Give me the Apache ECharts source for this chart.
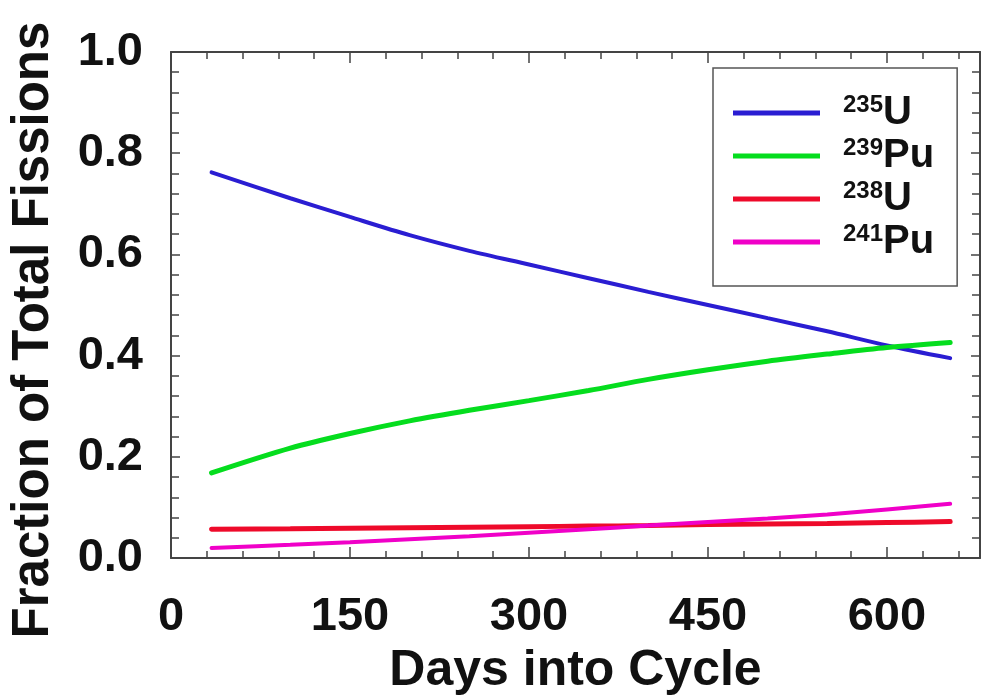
<!DOCTYPE html>
<html>
<head>
<meta charset="utf-8">
<script src="https://cdn.jsdelivr.net/npm/echarts@6/dist/echarts.min.js"></script>
<style>html,body{margin:0;padding:0;background:#fff}#c{width:982px;height:695px}</style>
</head>
<body>
<div id="c"></div>
<script>
const days = [34, 100, 150, 200, 250, 300, 350, 400, 450, 500, 550, 600, 653];
const u235 = [0.762, 0.711, 0.674, 0.638, 0.607, 0.580, 0.553, 0.526, 0.500, 0.474, 0.448, 0.420, 0.395];
const pu239 = [0.168, 0.217, 0.246, 0.271, 0.292, 0.311, 0.331, 0.353, 0.372, 0.389, 0.403, 0.416, 0.426];
const u238 = [0.057, 0.058, 0.059, 0.060, 0.061, 0.062, 0.063, 0.064, 0.066, 0.067, 0.068, 0.070, 0.072];
const pu241 = [0.020, 0.026, 0.031, 0.037, 0.043, 0.050, 0.057, 0.064, 0.071, 0.078, 0.086, 0.096, 0.107];
const seriesNames = ['235U', '239Pu', '238U', '241Pu'];
const xTicks = [0, 150, 300, 450, 600];
const yTicks = [0.0, 0.2, 0.4, 0.6, 0.8, 1.0];

const FONT = '"Liberation Sans", Arial, sans-serif';
const colors = ['#2a1dd2', '#05dd1e', '#ee0a2a', '#f000c8'];
const widths = [4, 5, 5, 4];
const allData = [u235, pu239, u238, pu241];

function pairs(arr) { return days.map((d, i) => [d, arr[i]]); }

const XMAX = 678;
const frameLine = { show: true, onZero: false, lineStyle: { color: '#444', width: 2 } };
const xTick = { show: true, inside: true, length: 11, lineStyle: { color: '#444', width: 1.5 } };
const minorX = { show: true, splitNumber: 5, length: 7, lineStyle: { color: '#444', width: 1.5 } };
const yTick = { show: true, inside: true, length: 9, lineStyle: { color: '#444', width: 1.5 } };
const minorY = { show: true, splitNumber: 5, length: 8, lineStyle: { color: '#444', width: 1.5 } };

const chart = echarts.init(document.getElementById('c'), null, { renderer: 'canvas' });
chart.setOption({
  animation: false,
  backgroundColor: '#fff',
  grid: { left: 171, top: 52, right: 2, bottom: 137, containLabel: false, outerBoundsMode: 'none' },
  legend: {
    orient: 'vertical',
    left: 713, top: 68,
    padding: [25, 23, 24, 20],
    borderColor: '#555', borderWidth: 1.5,
    itemWidth: 87, itemHeight: 5, itemGap: 3,
    itemTextGap: 23,
    icon: 'rect',
    data: seriesNames,
    formatter: function (name) {
      const m = name.match(/^(\d+)(\D+)$/);
      return '{sup|' + m[1] + '}{main|' + m[2] + '}';
    },
    textStyle: {
      rich: {
        sup: { fontFamily: FONT, fontWeight: 'bold', fontSize: 24, lineHeight: 24, color: '#111', verticalAlign: 'top', padding: [0, 0, 0, 18] },
        main: { fontFamily: FONT, fontWeight: 'bold', fontSize: 40, lineHeight: 40, color: '#111' }
      }
    }
  },
  xAxis: [{
    type: 'value', position: 'bottom', min: 0, max: XMAX, interval: 150,
    axisLine: frameLine, axisTick: xTick, minorTick: minorX, splitLine: { show: false },
    axisLabel: {
      showMaxLabel: false, margin: 36,
      fontFamily: FONT, fontWeight: 'bold', fontSize: 47, color: '#111',
      formatter: v => (xTicks.indexOf(v) >= 0 ? String(v) : '')
    },
    name: 'Days into Cycle', nameLocation: 'middle', nameGap: 84,
    nameTextStyle: { fontFamily: FONT, fontWeight: 'bold', fontSize: 50, color: '#111' }
  }, {
    type: 'value', position: 'top', min: 0, max: XMAX, interval: 150,
    axisLine: frameLine, axisTick: xTick, minorTick: minorX, splitLine: { show: false },
    axisLabel: { show: false }
  }],
  yAxis: [{
    type: 'value', position: 'left', min: 0, max: 1, interval: 0.2,
    axisLine: frameLine, axisTick: yTick, minorTick: minorY, splitLine: { show: false },
    axisLabel: {
      margin: 28,
      fontFamily: FONT, fontWeight: 'bold', fontSize: 47, color: '#111',
      formatter: v => { const t = yTicks.find(y => Math.abs(y - v) < 1e-9); return t === undefined ? '' : t.toFixed(1); }
    },
    name: 'Fraction of Total Fissions', nameLocation: 'middle', nameGap: 112, nameRotate: 90,
    nameTextStyle: { fontFamily: FONT, fontWeight: 'bold', fontSize: 51, color: '#111', padding: [0, 50, 0, 0] }
  }, {
    type: 'value', position: 'right', min: 0, max: 1, interval: 0.2,
    axisLine: frameLine, axisTick: yTick, minorTick: minorY, splitLine: { show: false },
    axisLabel: { show: false }
  }],
  series: seriesNames.map((n, i) => ({
    name: n, type: 'line', xAxisIndex: 0, yAxisIndex: 0,
    data: pairs(allData[i]), smooth: 0.3, symbol: 'none',
    lineStyle: { color: colors[i], width: widths[i], cap: 'round' },
    itemStyle: { color: colors[i] }
  }))
});
</script>
</body>
</html>
